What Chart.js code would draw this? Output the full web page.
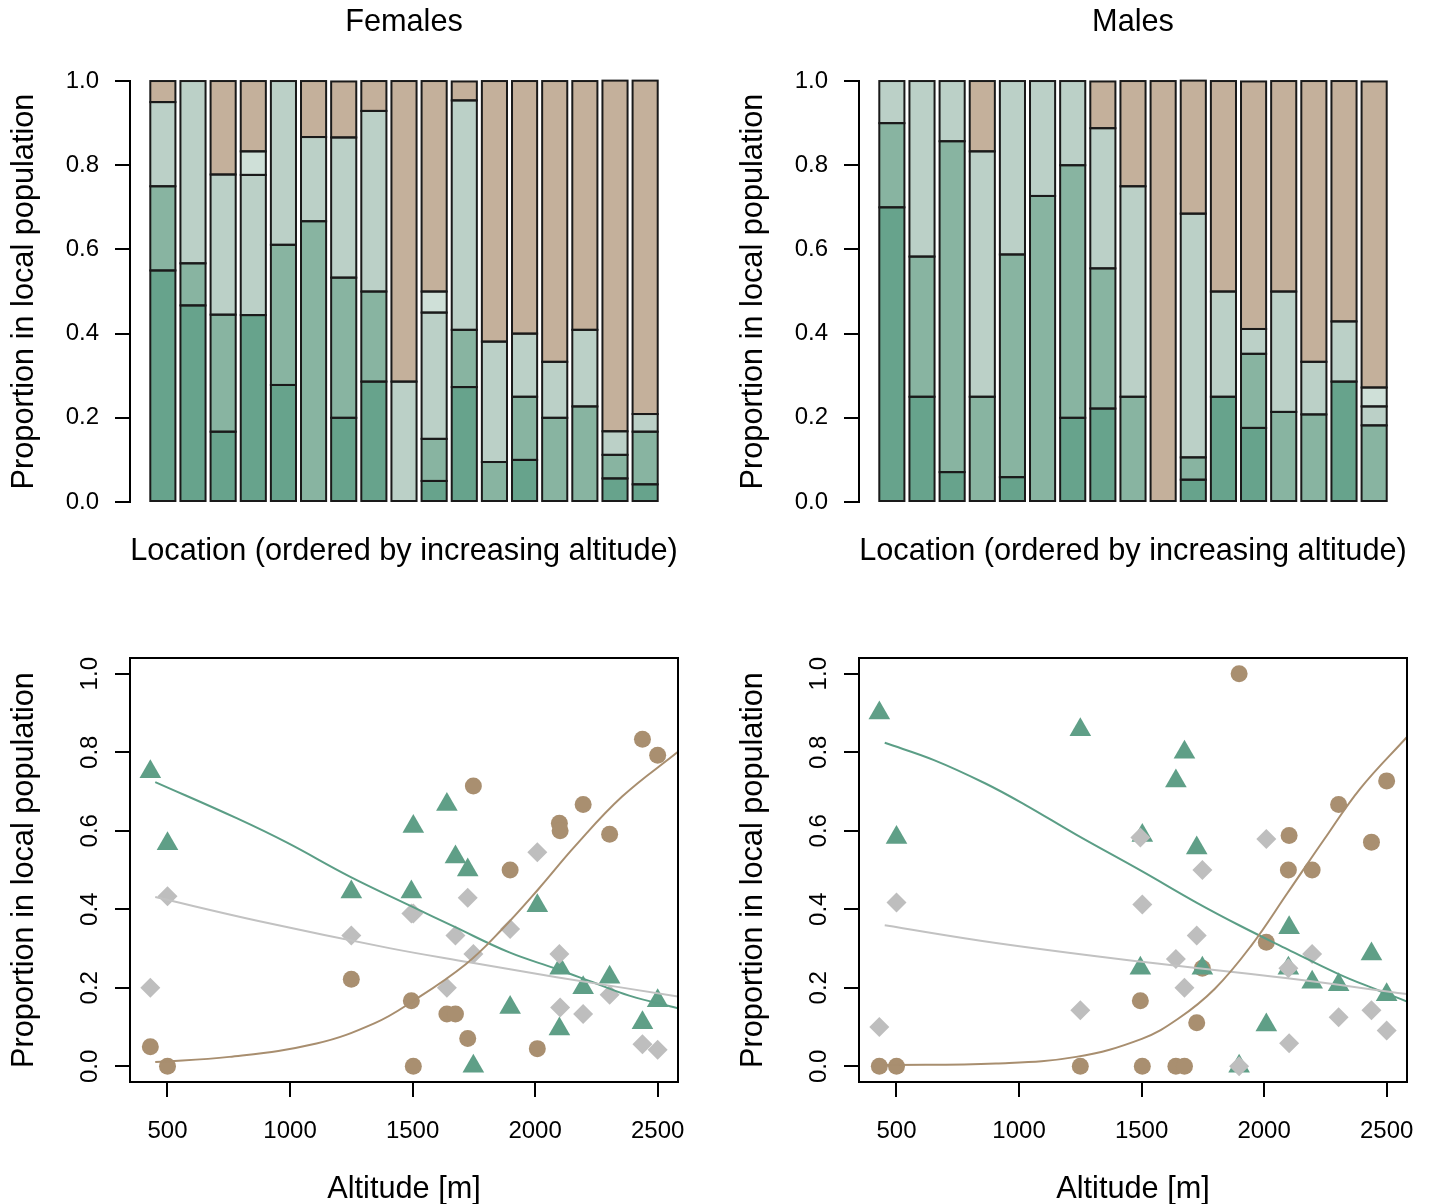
<!DOCTYPE html>
<html>
<head>
<meta charset="utf-8">
<script src="https://cdn.jsdelivr.net/npm/chart.js@4.4.1/dist/chart.umd.min.js"></script>
<style>
  html, body { margin: 0; padding: 0; background: #ffffff; overflow: hidden; }
  #wrap { position: relative; width: 1429px; height: 1204px; background: #ffffff; }
  canvas { position: absolute; }
</style>
</head>
<body>
<div id="wrap">
  <canvas id="femaleBars" width="700" height="600" style="left:0px;top:0px"></canvas>
  <canvas id="maleBars" width="700" height="600" style="left:729px;top:0px"></canvas>
  <canvas id="femaleScatter" width="700" height="600" style="left:0px;top:604px"></canvas>
  <canvas id="maleScatter" width="700" height="600" style="left:729px;top:604px"></canvas>
</div>
<script>
// ---------------- DATA ----------------
// Locations ordered by increasing altitude (m)
const altitudes = [430, 500, 1250, 1495, 1503, 1640, 1675, 1725, 1748, 1898, 2009, 2099, 2102, 2196, 2304, 2438, 2500];
const locationIndex = altitudes.map((a, i) => i);

const groupNames = ['Group 1', 'Group 2', 'Group 3', 'Group 4', 'Group 5'];

// Females: proportions per location (stacked bottom -> top)
const femaleG1 = [0.55, 0.467, 0.167, 0.444, 0.278, 0, 0.2, 0.286, 0, 0.05, 0.273, 0, 0.1, 0, 0, 0.056, 0.042];
const femaleG2 = [0.20, 0.10, 0.278, 0, 0.333, 0.667, 0.333, 0.214, 0, 0.10, 0.136, 0.095, 0.15, 0.2, 0.227, 0.056, 0.125];
const femaleG3 = [0.20, 0.433, 0.333, 0.333, 0.389, 0.2, 0.333, 0.429, 0.286, 0.30, 0.545, 0.286, 0.15, 0.133, 0.182, 0.056, 0.042];
const femaleG4 = [0, 0, 0, 0.056, 0, 0, 0, 0, 0, 0.05, 0, 0, 0, 0, 0, 0, 0];
const femaleG5 = [0.05, 0, 0.222, 0.167, 0, 0.133, 0.133, 0.071, 0.714, 0.50, 0.045, 0.619, 0.6, 0.667, 0.591, 0.833, 0.792];

// Males
const maleG1 = [0.7, 0.25, 0.071, 0, 0.059, 0, 0.2, 0.222, 0, 0, 0.053, 0.25, 0.176, 0, 0, 0.286, 0];
const maleG2 = [0.2, 0.333, 0.786, 0.25, 0.529, 0.727, 0.6, 0.333, 0.25, 0, 0.053, 0, 0.176, 0.214, 0.208, 0, 0.182];
const maleG3 = [0.1, 0.417, 0.143, 0.583, 0.412, 0.273, 0.2, 0.333, 0.5, 0, 0.579, 0.25, 0.059, 0.286, 0.125, 0.143, 0.045];
const maleG4 = [0, 0, 0, 0, 0, 0, 0, 0, 0, 0, 0, 0, 0, 0, 0, 0, 0.045];
const maleG5 = [0, 0, 0, 0.167, 0, 0, 0, 0.111, 0.25, 1, 0.316, 0.5, 0.588, 0.5, 0.667, 0.571, 0.727];

// Scatter values (bottom panels)
const femaleTriangle = [0.75, 0.567, 0.444, 0.444, 0.611, 0.667, 0.533, 0.5, 0, 0.15, 0.409, 0.095, 0.25, 0.2, 0.227, 0.111, 0.167];
const femaleDiamond  = [0.2, 0.433, 0.333, 0.389, 0.389, 0.2, 0.333, 0.429, 0.286, 0.35, 0.545, 0.286, 0.15, 0.133, 0.182, 0.056, 0.042];
const femaleCircle   = [0.05, 0, 0.222, 0.167, 0, 0.133, 0.133, 0.071, 0.714, 0.5, 0.045, 0.619, 0.6, 0.667, 0.591, 0.833, 0.792];

const maleTriangle = [0.9, 0.583, 0.857, 0.25, 0.588, 0.727, 0.8, 0.556, 0.25, 0, 0.105, 0.25, 0.353, 0.214, 0.208, 0.286, 0.182];
const maleDiamond  = [0.1, 0.417, 0.143, 0.583, 0.412, 0.273, 0.2, 0.333, 0.5, 0, 0.579, 0.25, 0.059, 0.286, 0.125, 0.143, 0.091];
const maleCircle   = [0, 0, 0, 0.167, 0, 0, 0, 0.111, 0.25, 1, 0.316, 0.5, 0.588, 0.5, 0.667, 0.571, 0.727];

// Fitted curves
const femaleGreenAlt = [450, 782, 990, 1242, 1494, 1672, 1895, 2088, 2236, 2384, 2583];
const femaleGreenFit = [0.724, 0.632, 0.569, 0.484, 0.408, 0.355, 0.290, 0.248, 0.214, 0.180, 0.148];
const femaleGreyAlt  = [450, 871, 1405, 1731, 2088, 2583];
const femaleGreyFit  = [0.431, 0.370, 0.301, 0.265, 0.227, 0.178];
const femaleTanAlt   = [450, 752, 1108, 1346, 1494, 1717, 1865, 2013, 2162, 2355, 2583];
const femaleTanFit   = [0.011, 0.024, 0.058, 0.110, 0.163, 0.260, 0.349, 0.451, 0.560, 0.687, 0.801];

const maleGreenAlt = [452, 653, 861, 1025, 1233, 1501, 1724, 1902, 2096, 2304, 2452, 2583];
const maleGreenFit = [0.824, 0.780, 0.721, 0.666, 0.590, 0.497, 0.417, 0.358, 0.298, 0.235, 0.197, 0.165];
const maleGreyAlt  = [452, 906, 1501, 2096, 2583];
const maleGreyFit  = [0.359, 0.314, 0.266, 0.224, 0.184];
const maleTanAlt   = [452, 906, 1233, 1501, 1649, 1798, 1947, 2096, 2244, 2393, 2583];
const maleTanFit   = [0.003, 0.007, 0.024, 0.070, 0.121, 0.197, 0.307, 0.442, 0.577, 0.708, 0.839];

// Tick labels
const proportionTicks = [0, 0.2, 0.4, 0.6, 0.8, 1.0];
const altitudeTicks = [500, 1000, 1500, 2000, 2500];

// ---------------- STYLE ----------------
const FAMILY = "'Liberation Sans', Arial, Helvetica, sans-serif";
Chart.defaults.font.family = FAMILY;
Chart.defaults.color = '#000000';
const FONT_TITLE = { family: FAMILY, size: 30.7, weight: 'normal', lineHeight: 1.2 };
const FONT_TICK = { family: FAMILY, size: 24, weight: 'normal', lineHeight: 1.2 };
const groupColors = ['#67a38c', '#88b4a1', '#bbd0c7', '#cfe0d8', '#c4b09b'];
const BAR_EDGE = '#1a1a1a';
const GREEN_PT = '#5f9f87', TAN_PT = '#a98f70', GREY_PT = '#bebebe';
const GREEN_LN = '#5b9e86', TAN_LN = '#a88e6f', GREY_LN = '#c2c2c2';

// Outline every bar segment with a line centred on its edges (like R's rect borders)
const barOutlinePlugin = {
  id: 'barOutline',
  afterDatasetsDraw(chart) {
    const ctx = chart.ctx;
    ctx.save();
    ctx.strokeStyle = BAR_EDGE;
    ctx.lineWidth = 2;
    chart.data.datasets.forEach((ds, d) => {
      const meta = chart.getDatasetMeta(d);
      meta.data.forEach((el, i) => {
        if (ds.data[i].y === null) return;
        const p = el.getProps(['x', 'y', 'base', 'width'], true);
        if (!isFinite(p.y) || !isFinite(p.base)) return;
        ctx.strokeRect(p.x - p.width / 2, Math.min(p.y, p.base), p.width, Math.abs(p.base - p.y));
      });
    });
    ctx.restore();
  }
};

function barChart(id, title, segs) {
  new Chart(document.getElementById(id), {
    type: 'bar',
    data: {
      datasets: segs.map((arr, k) => ({
        label: groupNames[k],
        data: arr.map((v, i) => ({ x: locationIndex[i], y: v === 0 ? null : v })),
        backgroundColor: groupColors[k],
        borderWidth: 0,
        stack: 'location',
        categoryPercentage: 1,
        barPercentage: 1 / 1.2
      }))
    },
    options: {
      responsive: false,
      animation: false,
      events: [],
      layout: { padding: { left: 0, right: 22, top: 0, bottom: 0 } },
      plugins: {
        legend: { display: false },
        tooltip: { enabled: false },
        title: { display: true, fullSize: false, text: title, color: '#000', font: FONT_TITLE, padding: { top: 4, bottom: 40.2 } }
      },
      scales: {
        x: {
          type: 'linear', offset: false, min: -1.09, max: 17.09,
          afterBuildTicks: s => { s.ticks = locationIndex.map(v => ({ value: v })); },
          grid: { display: false },
          border: { display: false },
          ticks: { display: false },
          title: { display: true, text: 'Location (ordered by increasing altitude)', color: '#000', font: FONT_TITLE, padding: { top: 0, bottom: 30 } },
          afterFit: s => { s.height = 98; s.paddingLeft = 0; s.paddingRight = 0; }
        },
        y: {
          type: 'linear', stacked: true, min: 0, max: 1,
          afterBuildTicks: s => { s.ticks = proportionTicks.map(v => ({ value: v })); },
          grid: { drawOnChartArea: false, drawTicks: true, tickLength: 15, color: '#000', lineWidth: 2 },
          border: { display: true, color: '#000', width: 2 },
          ticks: { color: '#000', font: FONT_TICK, padding: 16, callback: v => Number(v).toFixed(1) },
          title: { display: true, text: 'Proportion in local population', color: '#000', font: FONT_TITLE, padding: { top: 6, bottom: 0 } },
          afterFit: s => { s.width = 130; }
        }
      }
    },
    plugins: [barOutlinePlugin]
  });
}

const boxPlugin = {
  id: 'plotBox',
  afterDatasetsDraw(chart) {
    const { left, top, right, bottom } = chart.chartArea;
    const ctx = chart.ctx;
    ctx.save();
    ctx.strokeStyle = '#000';
    ctx.lineWidth = 2;
    ctx.strokeRect(left, top, right - left, bottom - top);
    ctx.restore();
  }
};

const rotatedTicksPlugin = {
  id: 'rotatedYTicks',
  afterDraw(chart) {
    const ys = chart.scales.y;
    const ctx = chart.ctx;
    ctx.save();
    ctx.fillStyle = '#000';
    ctx.font = '24px ' + FAMILY;
    ctx.textAlign = 'center';
    ctx.textBaseline = 'alphabetic';
    proportionTicks.forEach(v => {
      const y = ys.getPixelForValue(v);
      ctx.save();
      ctx.translate(ys.right - 15 - 18, y);
      ctx.rotate(-Math.PI / 2);
      ctx.fillText(v.toFixed(1), 0, 0);
      ctx.restore();
    });
    ctx.restore();
  }
};

function scatterChart(id, tri, dia, cir, fits) {
  const pts = arr => arr.map((v, i) => ({ x: altitudes[i], y: v }));
  const curve = (xs, ys) => xs.map((x, i) => ({ x: x, y: ys[i] }));
  const lineDs = (label, xs, ys, color, order) => ({
    label: label, data: curve(xs, ys), showLine: true, borderColor: color, borderWidth: 2,
    pointRadius: 0, tension: 0.4, fill: false, order: order
  });
  new Chart(document.getElementById(id), {
    type: 'scatter',
    data: {
      datasets: [
        lineDs('Tan fit', fits[4], fits[5], TAN_LN, 1),
        lineDs('Grey fit', fits[2], fits[3], GREY_LN, 2),
        lineDs('Green fit', fits[0], fits[1], GREEN_LN, 3),
        { label: 'Light groups', data: pts(dia), pointStyle: 'rectRot', pointRadius: 10, pointBackgroundColor: GREY_PT, pointBorderWidth: 0, order: 4 },
        { label: 'Green groups', data: pts(tri), pointStyle: 'triangle', pointRadius: 12.5, pointBackgroundColor: GREEN_PT, pointBorderWidth: 0, order: 5 },
        { label: 'Tan group', data: pts(cir), pointStyle: 'circle', pointRadius: 8.5, pointBackgroundColor: TAN_PT, pointBorderWidth: 0, order: 6 }
      ]
    },
    options: {
      responsive: false,
      animation: false,
      events: [],
      layout: { padding: { left: 0, right: 22, top: 54, bottom: 0 } },
      plugins: { legend: { display: false }, tooltip: { enabled: false } },
      scales: {
        x: {
          type: 'linear', min: 347, max: 2583,
          afterBuildTicks: s => { s.ticks = altitudeTicks.map(v => ({ value: v })); },
          grid: { drawOnChartArea: false, drawTicks: true, tickLength: 15, color: '#000', lineWidth: 2 },
          border: { display: true, color: '#000', width: 2 },
          ticks: { color: '#000', font: FONT_TICK, padding: 20, maxRotation: 0, minRotation: 0, autoSkip: false, callback: v => String(v) },
          title: { display: true, text: 'Altitude [m]', color: '#000', font: FONT_TITLE, padding: { top: 0, bottom: -4 } },
          afterFit: s => { s.height = 122; s.paddingLeft = 0; s.paddingRight = 0; }
        },
        y: {
          type: 'linear', min: -0.04, max: 1.04,
          afterBuildTicks: s => { s.ticks = proportionTicks.map(v => ({ value: v })); },
          grid: { drawOnChartArea: false, drawTicks: true, tickLength: 15, color: '#000', lineWidth: 2 },
          border: { display: true, color: '#000', width: 2 },
          ticks: { display: false },
          title: { display: true, text: 'Proportion in local population', color: '#000', font: FONT_TITLE, padding: { top: 6, bottom: 0 } },
          afterFit: s => { s.width = 130; s.paddingTop = 0; s.paddingBottom = 0; }
        }
      }
    },
    plugins: [boxPlugin, rotatedTicksPlugin]
  });
}

barChart('femaleBars', 'Females', [femaleG1, femaleG2, femaleG3, femaleG4, femaleG5]);
barChart('maleBars', 'Males', [maleG1, maleG2, maleG3, maleG4, maleG5]);
scatterChart('femaleScatter', femaleTriangle, femaleDiamond, femaleCircle,
  [femaleGreenAlt, femaleGreenFit, femaleGreyAlt, femaleGreyFit, femaleTanAlt, femaleTanFit]);
scatterChart('maleScatter', maleTriangle, maleDiamond, maleCircle,
  [maleGreenAlt, maleGreenFit, maleGreyAlt, maleGreyFit, maleTanAlt, maleTanFit]);
</script>
</body>
</html>
